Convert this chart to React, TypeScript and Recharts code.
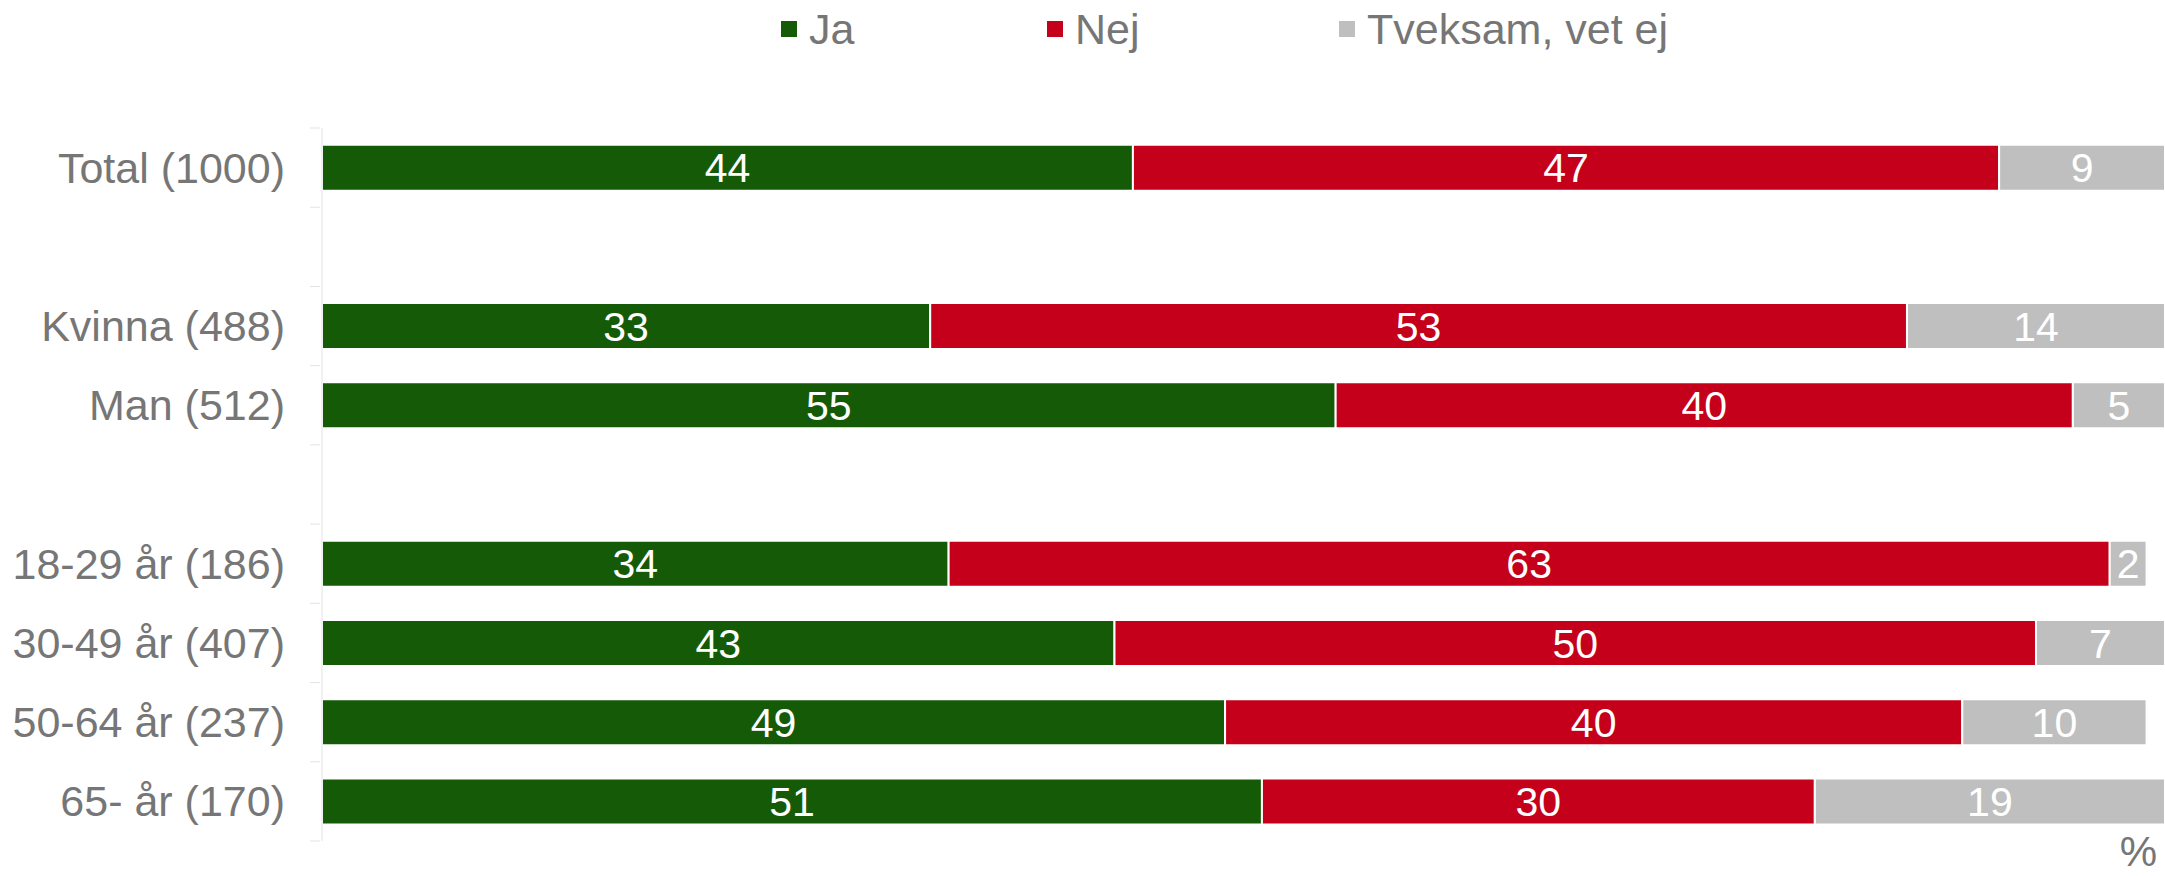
import React from 'react'
import { BarChart, Bar, XAxis, YAxis, Legend, LabelList } from 'recharts'

const categories = [
  'Total (1000)',
  ' ',
  'Kvinna (488)',
  'Man (512)',
  '  ',
  '18-29 år (186)',
  '30-49 år (407)',
  '50-64 år (237)',
  '65- år (170)',
]
const ja = [44, null, 33, 55, null, 34, 43, 49, 51]
const nej = [47, null, 53, 40, null, 63, 50, 40, 30]
const tveksam = [9, null, 14, 5, null, 2, 7, 10, 19]

const seriesNames = ['Ja', 'Nej', 'Tveksam, vet ej']
const colors = ['#155a07', '#c5001a', '#bfbfbf']

const data = categories.map((name, i) => ({
  name,
  ja: ja[i],
  nej: nej[i],
  tveksam: tveksam[i],
}))

const W = 2165
const H = 876
const TOP = 128
const BOTTOM = 35
const AXIS_W = 322
const LEGEND_H = 60
const FONT = 'Liberation Sans, Arial, sans-serif'
const TEXT = '#767676'
const step = (H - TOP - BOTTOM) / categories.length
// legend item slots, left edge of first square at 781
const legendSlots = [266, 292, 400]

const CategoryTick = (props: any) => {
  const { x, y, payload, index } = props
  const ax = AXIS_W - 2
  return (
    <g>
      <line x1={ax - 10} x2={ax} y1={y - step / 2} y2={y - step / 2} stroke="#e3e3e3" />
      {index === categories.length - 1 && (
        <line x1={ax - 10} x2={ax} y1={y + step / 2} y2={y + step / 2} stroke="#e3e3e3" />
      )}
      <text x={x} y={y} dy={15} textAnchor="end" fill={TEXT} fontSize={43} fontFamily={FONT}>
        {payload.value.trim()}
      </text>
    </g>
  )
}

const LegendContent = () => (
  <div
    style={{
      display: 'flex',
      paddingLeft: 781,
      height: LEGEND_H,
      fontFamily: FONT,
      fontSize: 43,
      color: TEXT,
    }}
  >
    {seriesNames.map((n, i) => (
      <div key={n} style={{ display: 'flex', alignItems: 'center', width: legendSlots[i], height: 58 }}>
        <span style={{ width: 16, height: 16, background: colors[i], marginRight: 12, display: 'inline-block' }} />
        <span>{n}</span>
      </div>
    ))}
  </div>
)

const PercentLabel = (props: any) => {
  const { viewBox } = props
  return (
    <text
      x={viewBox.x + viewBox.width - 8}
      y={viewBox.y + viewBox.height - 10}
      textAnchor="end"
      fill={TEXT}
      fontSize={42}
      fontFamily={FONT}
    >
      %
    </text>
  )
}

export default function App() {
  return (
    <div style={{ position: 'absolute', left: 0, top: 0, background: '#fff' }}>
      <BarChart
        width={W}
        height={H}
        data={data}
        layout="vertical"
        margin={{ top: TOP - LEGEND_H, right: 0, bottom: 0, left: 0 }}
        barCategoryGap="21%"
      >
        <Legend
          verticalAlign="top"
          content={<LegendContent />}
          wrapperStyle={{ top: 0, left: 0, width: W, height: LEGEND_H }}
        />
        <XAxis
          type="number"
          domain={[0, 100]}
          allowDataOverflow
          axisLine={false}
          tickLine={false}
          tick={false}
          height={BOTTOM}
          label={<PercentLabel />}
        />
        <YAxis
          type="category"
          dataKey="name"
          width={AXIS_W}
          axisLine={{ stroke: '#e3e3e3' }}
          tickLine={false}
          tickSize={10}
          tickMargin={27}
          interval={0}
          tick={<CategoryTick />}
        />
        {(['ja', 'nej', 'tveksam'] as const).map((k, i) => (
          <Bar
            key={k}
            dataKey={k}
            name={seriesNames[i]}
            stackId="a"
            fill={colors[i]}
            stroke="#fff"
            strokeWidth={2}
            isAnimationActive={false}
          >
            <LabelList dataKey={k} position="center" fill="#fff" fontSize={41} fontFamily={FONT} />
          </Bar>
        ))}
      </BarChart>
    </div>
  )
}
